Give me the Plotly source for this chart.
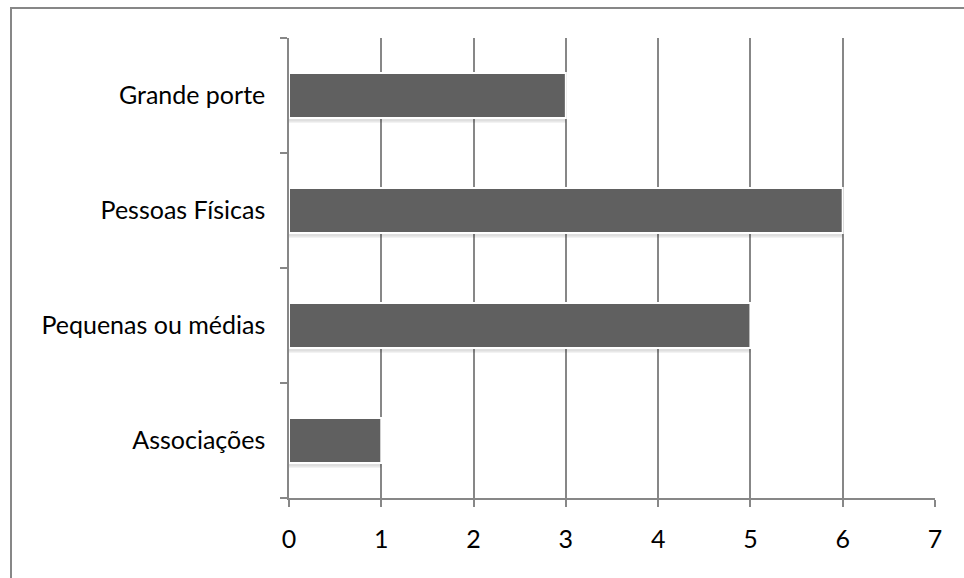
import plotly.graph_objects as go

categories = ["Associações", "Pequenas ou médias", "Pessoas Físicas", "Grande porte"]
values = [1, 5, 6, 3]
x_ticks = [0, 1, 2, 3, 4, 5, 6, 7]

grid_color = "#878787"
font = dict(family="Lato, Open Sans, sans-serif", size=25, color="#000000")
bar_width = 0.39

fig = go.Figure()

# soft drop shadow under each bar
for shift, alpha in [(0.045, 0.05), (0.03, 0.08)]:
    fig.add_trace(
        go.Bar(
            x=values,
            y=categories,
            orientation="h",
            marker=dict(color=f"rgba(0,0,0,{alpha})", line=dict(width=0)),
            width=bar_width,
            offset=-bar_width / 2 - shift,
            hoverinfo="skip",
        )
    )

fig.add_trace(
    go.Bar(
        x=values,
        y=categories,
        orientation="h",
        marker=dict(color="#606060", line=dict(color="#ffffff", width=2)),
        width=bar_width,
        offset=-bar_width / 2,
        hoverinfo="x+y",
    )
)

fig.update_layout(
    width=964,
    height=578,
    margin=dict(l=289, r=29, t=38, b=80),
    paper_bgcolor="#ffffff",
    plot_bgcolor="#ffffff",
    font=font,
    showlegend=False,
    barmode="overlay",
    shapes=[
        # chart frame
        dict(
            type="rect",
            xref="paper", yref="paper",
            x0=-278 / 646, x1=1.2,
            y0=-0.3, y1=1 + 30 / 460,
            line=dict(color="#878787", width=2),
            fillcolor="rgba(0,0,0,0)",
            layer="below",
        )
    ],
)

fig.update_xaxes(
    range=[0, 7],
    tickvals=x_ticks,
    showgrid=True,
    gridcolor=grid_color,
    gridwidth=1.5,
    zeroline=False,
    showline=True,
    linecolor=grid_color,
    linewidth=1.5,
    ticks="outside",
    ticklen=7,
    tickwidth=1.5,
    tickcolor=grid_color,
    ticklabelstandoff=11,
    fixedrange=True,
)

fig.update_yaxes(
    categoryorder="array",
    categoryarray=categories,
    showgrid=False,
    zeroline=False,
    showline=True,
    linecolor=grid_color,
    linewidth=1.5,
    ticks="outside",
    tickson="boundaries",
    ticklen=7,
    tickwidth=1.5,
    tickcolor=grid_color,
    ticklabelstandoff=17,
    fixedrange=True,
)

fig.write_html("out.html")
